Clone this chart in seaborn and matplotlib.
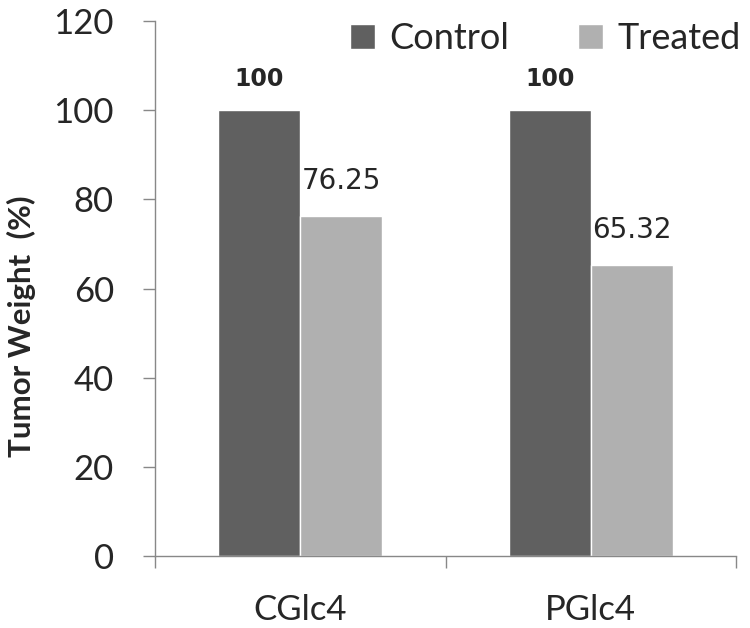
import matplotlib
matplotlib.use("Agg")
import matplotlib.pyplot as plt
import seaborn as sns
import pandas as pd

groups = ["CGlc4", "CGlc4", "PGlc4", "PGlc4"]
conditions = ["Control", "Treated", "Control", "Treated"]
weights = [100, 76.25, 100, 65.32]
value_labels = ["100", "76.25", "100", "65.32"]

df = pd.DataFrame({"group": groups, "condition": conditions, "weight": weights})

sns.set_style("white")
plt.rcParams['font.family'] = ['Lato', 'DejaVu Sans']

fig = plt.figure(figsize=(7.5, 6.28), dpi=100)
ax = fig.add_axes([0.2067, 0.1146, 0.7747, 0.852])

palette = {"Control": "#606060", "Treated": "#b0b0b0"}
sns.barplot(data=df, x="group", y="weight", hue="condition", palette=palette,
            width=0.565, saturation=1, ax=ax, legend=True)

# value labels over the bars
for cont, cond in zip(ax.containers, ["Control", "Treated"]):
    idx = [i for i, c in enumerate(conditions) if c == cond]
    labs = [value_labels[i] for i in idx]
    if cond == "Control":
        ax.bar_label(cont, labels=labs, padding=14, fontsize=17,
                     family="DejaVu Sans", fontweight="bold")
    else:
        ax.bar_label(cont, labels=labs, padding=15, fontsize=20,
                     family="DejaVu Sans")

ax.set_ylim(0, 120)
ax.set_yticks(range(0, 121, 20))
ax.set_xlim(-0.5, 1.5)
ax.set_xlabel("")
ax.set_ylabel("Tumor Weight  (%)", fontsize=22.5, fontweight="bold")
ax.yaxis.set_label_coords(-0.205, 0.43)

ax.tick_params(axis="y", labelsize=25, length=8.6, width=1, color="#888888",
               left=True, pad=21)
ax.tick_params(axis="x", which="major", labelsize=25, length=0, pad=27)
ax.set_xticks([-0.5, 0.5, 1.5], minor=True)
ax.tick_params(axis="x", which="minor", length=8.6, width=1, color="#888888", bottom=True)

for s in ["top", "right"]:
    ax.spines[s].set_visible(False)
for s in ["left", "bottom"]:
    ax.spines[s].set_color("#888888")
    ax.spines[s].set_linewidth(1)

handles, labels = ax.get_legend_handles_labels()
ax.legend(handles, labels, loc="upper right", bbox_to_anchor=(0.995, 0.973),
          bbox_transform=fig.transFigure, ncol=2, frameon=False, fontsize=26,
          handlelength=0.69, handleheight=0.69, handletextpad=0.4, columnspacing=1.9,
          borderaxespad=0.0, borderpad=0.15)

fig.savefig("out.png", dpi=100)
